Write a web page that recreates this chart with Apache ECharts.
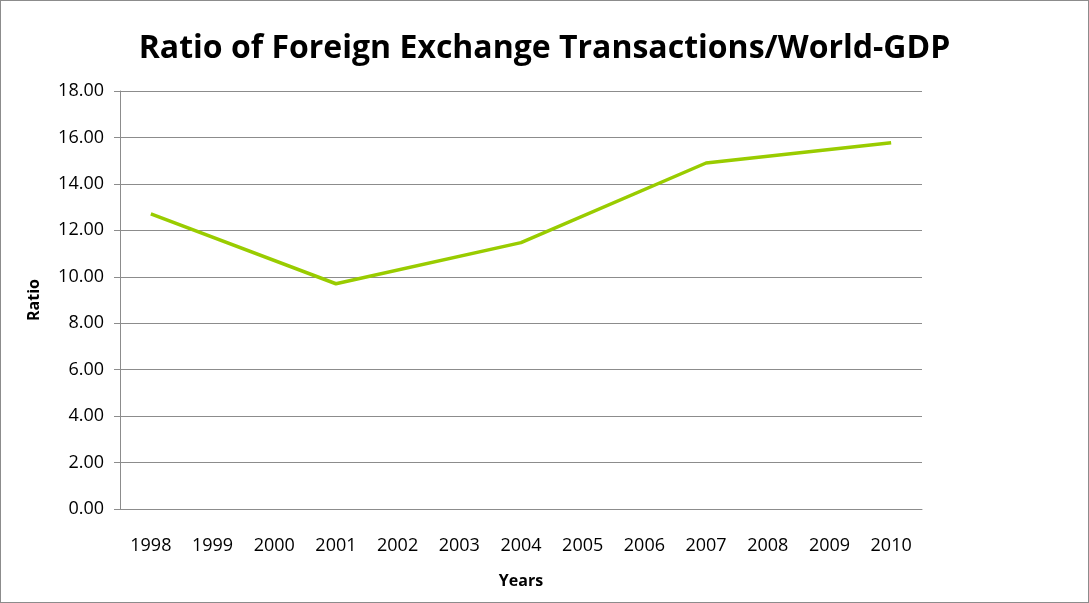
<!DOCTYPE html>
<html>
<head>
<meta charset="utf-8">
<script src="https://cdn.jsdelivr.net/npm/echarts@6/dist/echarts.min.js"></script>
<style>
    html, body { margin: 0; padding: 0; background: #fff; }
    #chart { width: 1089px; height: 603px; box-sizing: border-box; border: 1px solid #8c8c8c; }
</style>
</head>
<body>
<div id="chart"></div>
<script>
    // years on the category axis
    var years = ['1998', '1999', '2000', '2001', '2002', '2003', '2004', '2005', '2006', '2007', '2008', '2009', '2010'];
    // ratio values (only these years have points)
    var ratio = [12.71, null, null, 9.70, null, null, 11.47, null, null, 14.90, null, null, 15.77];
    var yTicks = { min: 0, max: 18, interval: 2 };

    var chart = echarts.init(document.getElementById('chart'));
    var option = {
        animation: false,
        title: {
            text: 'Ratio of Foreign Exchange Transactions/World-GDP',
            left: 'center',
            top: 27,
            textStyle: { fontFamily: 'Open Sans', fontWeight: 'bold', fontSize: 32, color: '#000' }
        },
        grid: { left: 119, right: 166, top: 90, bottom: 93 },
        xAxis: {
            type: 'category',
            data: years,
            boundaryGap: true,
            name: 'Years',
            nameLocation: 'middle',
            nameGap: 64,
            nameTextStyle: { fontFamily: 'Open Sans', fontWeight: 'bold', fontSize: 16, color: '#000' },
            axisLine: { lineStyle: { color: '#8c8c8c' } },
            axisTick: { length: 6, lineStyle: { color: '#8c8c8c' } },
            axisLabel: { fontFamily: 'Open Sans', fontSize: 18, color: '#000', margin: 28 }
        },
        yAxis: {
            type: 'value',
            min: yTicks.min,
            max: yTicks.max,
            interval: yTicks.interval,
            name: 'Ratio',
            nameLocation: 'middle',
            nameGap: 78,
            nameRotate: 90,
            nameTextStyle: { fontFamily: 'Open Sans', fontWeight: 'bold', fontSize: 16, color: '#000' },
            axisLine: { show: true, lineStyle: { color: '#8c8c8c' } },
            axisTick: { show: true, length: 6, lineStyle: { color: '#8c8c8c' } },
            splitLine: { lineStyle: { color: '#8c8c8c' } },
            axisLabel: {
                fontFamily: 'Open Sans', fontSize: 18, color: '#000', margin: 16,
                formatter: function (v) { return v.toFixed(2); }
            }
        },
        series: [
            {
                name: 'Ratio',
                type: 'line',
                data: ratio,
                connectNulls: true,
                showSymbol: false,
                lineStyle: { color: '#99cc00', width: 3.5 }
            }
        ]
    };
    chart.setOption(option);
</script>
</body>
</html>
